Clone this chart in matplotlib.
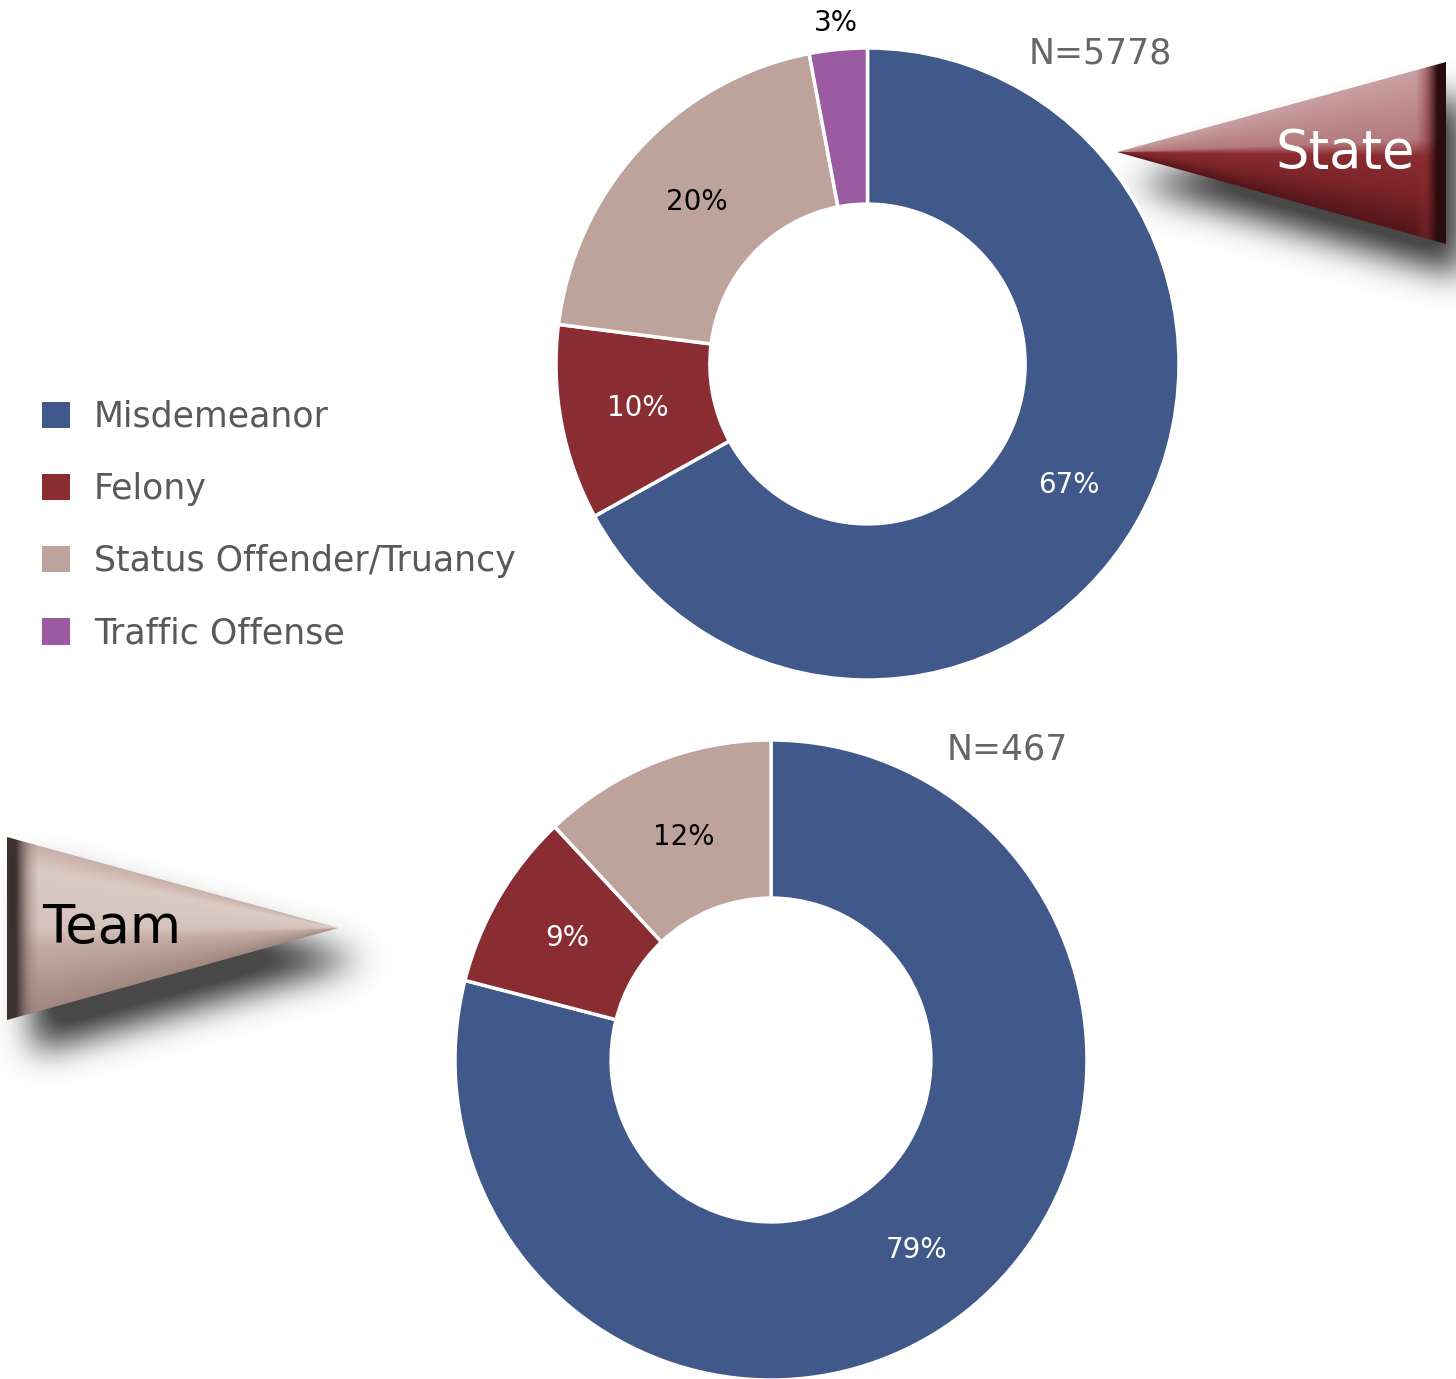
import numpy as np
import matplotlib
matplotlib.use('Agg')
import matplotlib.pyplot as plt
from matplotlib.path import Path
from matplotlib.patches import Polygon

plt.rcParams['font.family'] = ['DejaVu Sans']

W, H = 1456, 1379

# data
categories = ['Misdemeanor', 'Felony', 'Status Offender/Truancy', 'Traffic Offense']
colors = ['#41598a', '#892d33', '#bda39b', '#9a5ba0']
label_colors = ['white', 'white', 'black', 'black']
state_pct = [67, 10, 20, 3]
team_pct = [79, 9, 12]
state_n = 5778
team_n = 467


def blur(a, s):
    r = int(3 * s)
    k = np.exp(-0.5 * (np.arange(-r, r + 1) / s) ** 2)
    k /= k.sum()
    a = np.apply_along_axis(lambda m: np.convolve(m, k, mode='same'), 0, a)
    a = np.apply_along_axis(lambda m: np.convolve(m, k, mode='same'), 1, a)
    return a


def raster(poly, x0, x1, y0, y1):
    xs = np.arange(x0, x1) + 0.5
    ys = np.arange(y0, y1) + 0.5
    gx, gy = np.meshgrid(xs, ys)
    m = Path(poly).contains_points(np.c_[gx.ravel(), gy.ravel()])
    return m.reshape(gx.shape).astype(float), gx, gy


def shadow(ax, poly, dx, dy, s, alpha=0.9):
    p = np.array(poly, float) + [dx, dy]
    pad = int(4 * s)
    x0, y0 = p.min(0).astype(int) - pad
    x1, y1 = p.max(0).astype(int) + pad
    m, _, _ = raster(p, x0, x1, y0, y1)
    m = blur(m, s)
    img = np.zeros(m.shape + (4,))
    img[..., :3] = 0.2
    img[..., 3] = np.clip(m * 1.15, 0, 1) * alpha
    ax.imshow(img, extent=(x0, x1, y1, y0), aspect='auto', interpolation='bilinear', zorder=1)


def mix(c1, c2, t):
    c1 = np.array(matplotlib.colors.to_rgb(c1))
    c2 = np.array(matplotlib.colors.to_rgb(c2))
    t = np.asarray(t)[..., None]
    return c1 * (1 - t) + c2 * t


def ramp(stops, v):
    out = np.zeros(v.shape + (3,))
    for (a, ca), (b, cb) in zip(stops[:-1], stops[1:]):
        sel = (v >= a) & (v <= b)
        t = (v[sel] - a) / (b - a)
        out[sel] = mix(ca, cb, t)
    return out


fig = plt.figure(figsize=(W / 100, H / 100), dpi=100)
bg = fig.add_axes([0, 0, 1, 1])
bg.axis('off')

# State arrow
st = [(1117, 152), (1446, 62), (1446, 244)]
shadow(bg, st, 16, 32, 17)
x0, x1, y0, y1 = 1110, 1450, 58, 250
_, gx, gy = raster(st, x0, x1, y0, y1)
ytop = 152 - (gx - 1117) * 90 / 329
ybot = 152 + (gx - 1117) * 92 / 329
v = np.clip((gy - ytop) / np.maximum(ybot - ytop, 1), 0, 1)
body = ramp([(0, '#c9a0a2'), (0.42, '#b47a7d'), (0.52, '#8b2c32'), (0.75, '#7a2429'), (1, '#531619')], v)
u = 1446 - gx
edge = np.clip((30 - u) / 22, 0, 1)
body = body * (1 - edge[..., None]) + mix('#8b2c32', '#2a0c0e', np.clip((22 - u) / 12, 0, 1)) * edge[..., None]
im = bg.imshow(body, extent=(x0, x1, y1, y0), aspect='auto', interpolation='bilinear', zorder=2)
clip = Polygon(st, closed=True, transform=bg.transData, facecolor='none', edgecolor='none')
bg.add_patch(clip)
im.set_clip_path(clip)
bg.text(1345, 153, 'State', color='white', fontsize=38, ha='center', va='center', zorder=3)

# Team arrow
tm = [(7, 837), (338, 928), (7, 1020)]
shadow(bg, tm, 26, 32, 17)
x0, x1, y0, y1 = 0, 345, 830, 1026
_, gx, gy = raster(tm, x0, x1, y0, y1)
ytop = 837 + (gx - 7) * 91 / 331
ybot = 1020 - (gx - 7) * 92 / 331
v = np.clip((gy - ytop) / np.maximum(ybot - ytop, 1), 0, 1)
body = ramp([(0, '#c8b0a9'), (0.15, '#dccbc5'), (0.5, '#d5c2bc'), (0.62, '#c3aaa3'), (1, '#a08881')], v)
u = gx - 7
edge = np.clip((32 - u) / 24, 0, 1)
body = body * (1 - edge[..., None]) + mix('#8c7670', '#3b302e', np.clip((24 - u) / 14, 0, 1)) * edge[..., None]
im = bg.imshow(body, extent=(x0, x1, y1, y0), aspect='auto', interpolation='bilinear', zorder=2)
clip = Polygon(tm, closed=True, transform=bg.transData, facecolor='none', edgecolor='none')
bg.add_patch(clip)
im.set_clip_path(clip)
bg.text(112, 928, 'Team', color='black', fontsize=38, ha='center', va='center', zorder=3)

bg.text(1100, 54, f'N={state_n}', color='#666666', fontsize=25, ha='center', va='center')
bg.text(1007, 750, f'N={team_n}', color='#666666', fontsize=25, ha='center', va='center')

bg.set_xlim(0, W)
bg.set_ylim(H, 0)


def donut(box, values, cols, lcols):
    left, top, w, h = box
    ax = fig.add_axes([left / W, (H - top - h) / H, w / W, h / H])
    wedges, _, autotexts = ax.pie(values, colors=cols, startangle=90, counterclock=False,
                                  autopct='%d%%', pctdistance=0.75,
                                  wedgeprops=dict(width=0.494, edgecolor='white', linewidth=2.5),
                                  textprops=dict(fontsize=20))
    for wdg, t, c, val in zip(wedges, autotexts, lcols, values):
        t.set_color(c)
        if val < 5:
            ang = np.deg2rad((wdg.theta1 + wdg.theta2) / 2)
            t.set_position((1.085 * np.cos(ang), 1.085 * np.sin(ang)))
    ax.set_xlim(-1, 1)
    ax.set_ylim(-1, 1)
    ax.set_aspect('auto')
    ax.axis('off')
    ax.patch.set_alpha(0)
    return wedges


w_state = donut((556, 48, 623, 632), state_pct, colors, label_colors)
donut((455, 740, 632, 640), team_pct, colors[:3], label_colors[:3])

leg = fig.legend(w_state, categories, loc='upper left', bbox_to_anchor=(28 / W, 1 - 386 / H),
                 frameon=False, fontsize=25, labelspacing=1.1, handlelength=0.8,
                 handleheight=0.8, handletextpad=0.7, borderaxespad=0)
for t in leg.get_texts():
    t.set_color('#595959')
for hnd in leg.legend_handles:
    hnd.set_edgecolor('none')

fig.savefig('out.png', dpi=100)
